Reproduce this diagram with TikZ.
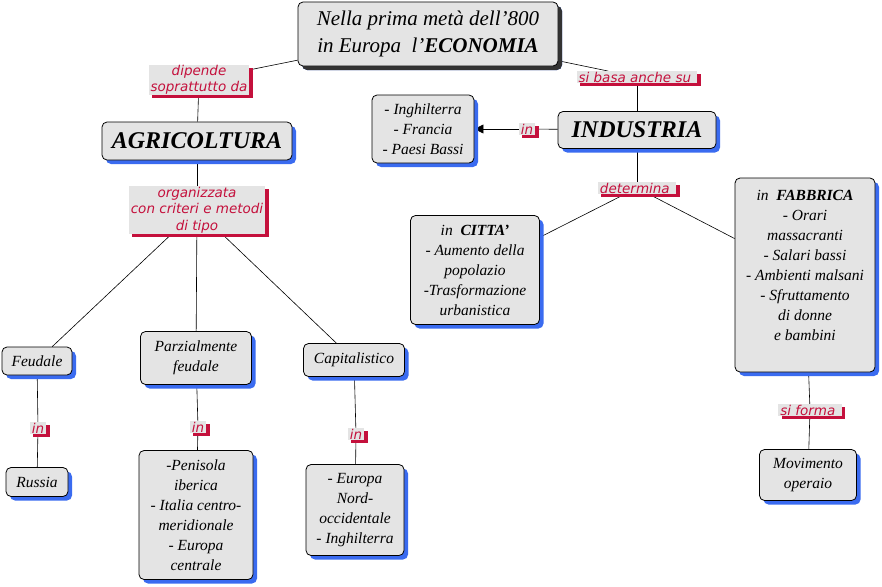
\documentclass[tikz,border=0pt]{standalone}
\usepackage{fontspec}
\setmainfont{Liberation Serif}
\setsansfont{DejaVu Sans}
\usetikzlibrary{shadows,arrows.meta,backgrounds}
\definecolor{boxfill}{HTML}{E4E4E4}
\definecolor{shblue}{HTML}{3A6BF0}
\definecolor{lblred}{HTML}{C4103C}
\begin{document}
\begin{tikzpicture}[x=1pt,y=-1pt,
 box/.style={draw=black, line width=0.8pt, fill=boxfill, rounded corners=5pt, align=center, inner sep=1pt,
   font=\itshape\fontsize{15.5}{20}\selectfont,
   drop shadow={shadow xshift=4pt, shadow yshift=-4pt, fill=shblue, opacity=1}},
 titlebox/.style={box, font=\itshape\fontsize{21}{27}\selectfont,
   drop shadow={shadow xshift=4pt, shadow yshift=-4pt, fill=black!80, opacity=1}},
 bigbox/.style={box, font=\itshape\bfseries\fontsize{24}{26}\selectfont},
 lbl/.style={fill=boxfill, text=lblred, align=center, inner xsep=2pt, inner ysep=0.5pt,
   font=\sffamily\itshape\fontsize{13.5}{16.5}\selectfont,
   drop shadow={shadow xshift=3.5pt, shadow yshift=-3pt, fill=lblred, opacity=1}},
 conn/.style={draw=black, line width=0.6pt}]
\useasboundingbox (0,0) rectangle (882,586);

% nodes
\node[titlebox, minimum width=260pt, minimum height=64pt] (title) at (428,34)
  {Nella prima metà dell'800\\in Europa\ \ l'\textbf{ECONOMIA}};
\node[lbl] (dip) at (199,80) {dipende\\soprattutto da};
\node[bigbox, minimum width=190pt, minimum height=38pt] (agri) at (197,141) {AGRICOLTURA};
\node[lbl] (org) at (197,210) {organizzata\\con criteri e metodi\\di tipo};
\node[box, minimum width=70pt, minimum height=28pt] (feud) at (37,361) {Feudale};
\node[box, minimum width=111pt, minimum height=53pt] (parz) at (196,358) {Parzialmente\\feudale};
\node[box, minimum width=101pt, minimum height=33pt] (cap) at (354,360) {Capitalistico};
\node[lbl] (in1) at (38,428) {in};
\node[lbl] (in2) at (198,427) {in};
\node[lbl] (in3) at (356,434) {in};
\node[box, minimum width=62pt, minimum height=29pt] (russ) at (37,482) {Russia};
\node[box, minimum width=114pt, minimum height=129pt] (peni) at (196,515)
  {-Penisola\\iberica\\- Italia centro-\\meridionale\\- Europa\\centrale};
\node[box, minimum width=98pt, minimum height=91pt] (euro) at (355,510)
  {- Europa\\Nord-\\occidentale\\- Inghilterra};

\node[lbl] (sib) at (637,77) {si basa anche su };
\node[bigbox, minimum width=158pt, minimum height=37pt] (ind) at (637,130) {INDUSTRIA};
\node[lbl] (in4) at (527,129) {in};
\node[box, minimum width=102pt, minimum height=68pt] (paesi) at (423,129)
  {- Inghilterra\\- Francia\\- Paesi Bassi};
\node[lbl] (det) at (637,188) {determina };
\node[box, minimum width=129pt, minimum height=109pt] (citta) at (475,270)
  {in \ \textbf{CITTA'}\\- Aumento della\\popolazio\\-Trasformazione\\urbanistica};
\node[box, minimum width=140pt, minimum height=194pt] (fabb) at (805,275)
  {in \ \textbf{FABBRICA}\\- Orari\\massacranti\\- Salari bassi\\- Ambienti malsani\\- Sfruttamento\\di donne\\e bambini\\\mbox{}};
\node[lbl] (sif) at (810,410) {si forma };
\node[box, minimum width=97pt, minimum height=51pt] (movi) at (808,475) {Movimento\\operaio};

% connectors
\begin{scope}[on background layer]
\draw[conn] (title) -- (dip);
\draw[conn] (dip) -- (agri);
\draw[conn] (agri) -- (org);
\draw[conn] (org) -- (feud);
\draw[conn] (org) -- (parz);
\draw[conn] (org) -- (cap);
\draw[conn] (feud) -- (in1);
\draw[conn] (in1) -- (russ);
\draw[conn] (parz) -- (in2);
\draw[conn] (in2) -- (peni);
\draw[conn] (cap) -- (in3);
\draw[conn] (in3) -- (euro);
\draw[conn] (title) -- (sib);
\draw[conn] (sib) -- (ind);
\draw[conn] (ind) -- (in4);
\draw[conn, -{Triangle[length=9pt,width=9pt]}] (in4) -- (paesi);
\draw[conn] (ind) -- (det);
\draw[conn] (det) -- (citta);
\draw[conn] (det) -- (fabb);
\draw[conn] (fabb) -- (sif);
\draw[conn] (sif) -- (movi);
\end{scope}
\end{tikzpicture}
\end{document}
